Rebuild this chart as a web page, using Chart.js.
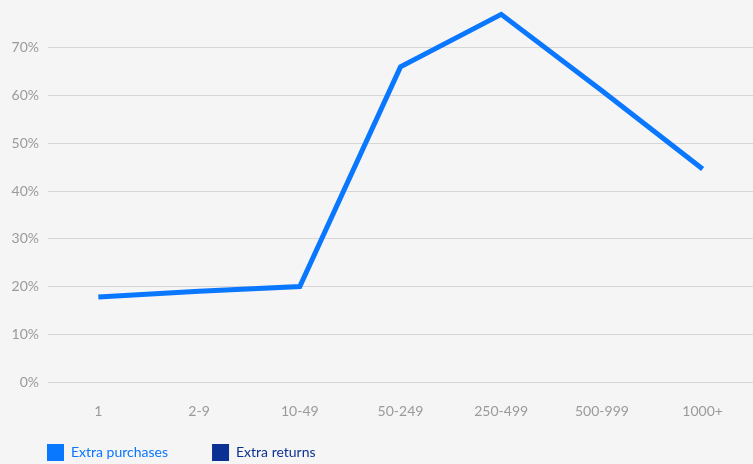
<!DOCTYPE html>
<html>
<head>
<meta charset="utf-8">
<script src="https://cdn.jsdelivr.net/npm/chart.js@4.4.0/dist/chart.umd.min.js"></script>
<style>
  html, body { margin: 0; padding: 0; background: #f5f5f5; }
  #wrap { width: 753px; height: 464px; }
</style>
</head>
<body>
<div id="wrap"><canvas id="myChart"></canvas></div>
<script>
const categories = ['1', '2-9', '10-49', '50-249', '250-499', '500-999', '1000+'];
const extraPurchases = [17.8, 19, 20, 66, 77, 61, 44.6];
const extraReturns = [];
const yTicks = [0, 10, 20, 30, 40, 50, 60, 70];

const blue = '#0a77ff';
const navy = '#0b3192';
const gray = '#9a9a9a';

// gap between the two legend items (chart.js uses it as the legend padding too)
const legendGap = 44;

// push the legend down to the bottom edge once layout is done
const legendShift = {
  id: 'legendShift',
  afterLayout(chart) {
    chart.legend.top = 444 - legendGap;
  }
};

const ctx = document.getElementById('myChart').getContext('2d');

const myChart = new Chart(ctx, {
  type: 'line',
  data: {
    labels: categories,
    datasets: [{
      label: 'Extra purchases',
      data: extraPurchases,
      borderColor: blue,
      backgroundColor: blue,
      borderWidth: 5,
      pointRadius: 0,
      tension: 0
    }, {
      label: 'Extra returns',
      data: extraReturns,
      borderColor: navy,
      backgroundColor: navy,
      borderWidth: 5,
      pointRadius: 0
    }]
  },
  plugins: [legendShift],
  options: {
    responsive: true,
    maintainAspectRatio: false,
    animation: false,
    layout: { padding: { top: 0, right: 0, left: 47 - legendGap, bottom: -36 } },
    plugins: {
      tooltip: { enabled: false },
      legend: {
        position: 'bottom',
        align: 'start',
        labels: {
          boxWidth: 17,
          boxHeight: 17,
          padding: legendGap,
          font: { family: 'Lato', size: 14 },
          generateLabels: chart => chart.data.datasets.map((ds, i) => ({
            text: ds.label,
            fillStyle: ds.borderColor,
            strokeStyle: ds.borderColor,
            lineWidth: 0,
            fontColor: ds.borderColor,
            hidden: false,
            datasetIndex: i
          }))
        }
      }
    },
    scales: {
      x: {
        offset: true,
        grid: { display: false },
        border: { display: false },
        afterFit: axis => { axis.height = 47; },
        ticks: {
          color: gray,
          padding: 13,
          maxRotation: 0,
          font: { family: 'Lato', size: 14 }
        }
      },
      y: {
        min: 0,
        max: 80,
        afterBuildTicks: axis => {
          axis.ticks = yTicks.map(v => ({ value: v }));
        },
        afterFit: axis => {
          axis.width = 48 - (47 - legendGap);
          axis.paddingTop = 0;
          axis.paddingBottom = 0;
        },
        grid: { color: '#d6d6d6', drawTicks: false },
        border: { display: false },
        ticks: {
          color: gray,
          padding: 9,
          font: { family: 'Lato', size: 14 },
          callback: v => v + '%'
        }
      }
    }
  }
});
</script>
</body>
</html>
